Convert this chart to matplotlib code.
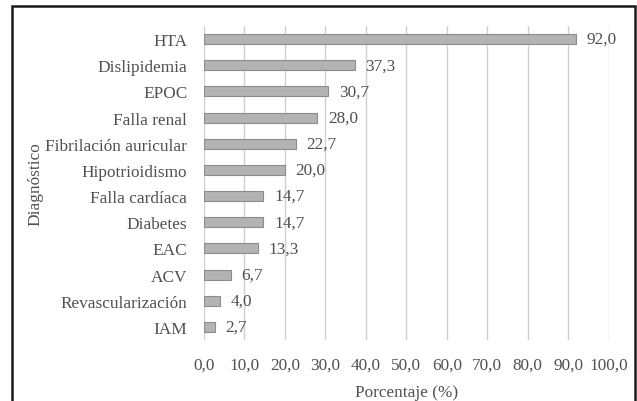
import matplotlib.pyplot as plt
from matplotlib.patches import Rectangle
from matplotlib.ticker import FuncFormatter

# =========================
# DATA
# =========================
diagnosticos = [
    "HTA", "Dislipidemia", "EPOC", "Falla renal", "Fibrilación auricular",
    "Hipotrioidismo", "Falla cardíaca", "Diabetes", "EAC", "ACV",
    "Revascularización", "IAM",
]
porcentajes = [92.0, 37.3, 30.7, 28.0, 22.7, 20.0, 14.7, 14.7, 13.3, 6.7, 4.0, 2.7]
x_ticks = list(range(0, 101, 10))

plt.rcParams["font.family"] = ["Liberation Serif", "DejaVu Serif"]
TEXT = "#505050"
FS = 12.4

fig = plt.figure(figsize=(6.37, 4.02), dpi=100)
ax = fig.add_axes([204 / 637, 1 - 341 / 402, (608.7 - 204) / 637, (341 - 27) / 402])

ypos = list(range(len(diagnosticos)))
ax.barh(ypos, porcentajes, height=0.38, color="#b3b3b3", edgecolor="#8c8c8c",
        linewidth=0.8, zorder=3)
for y, v in zip(ypos, porcentajes):
    ax.text(v + 2.6, y, f"{v:.1f}".replace(".", ","), va="center", ha="left",
            fontsize=FS, color=TEXT, zorder=4)

ax.set_xlim(0, 100)
ax.set_ylim(len(diagnosticos) - 0.5, -0.5)
ax.set_xticks(x_ticks)
ax.xaxis.set_major_formatter(FuncFormatter(lambda v, p: f"{v:.1f}".replace(".", ",")))
ax.set_yticks(ypos)
ax.set_yticklabels(diagnosticos)
ax.tick_params(axis="both", length=0, labelsize=FS, labelcolor=TEXT)
ax.tick_params(axis="x", pad=12)
ax.tick_params(axis="y", pad=12)
ax.grid(axis="x", color="#d0d0d0", linewidth=1, zorder=0)
for s in ax.spines.values():
    s.set_visible(False)

ax.set_xlabel("Porcentaje (%)", fontsize=FS, color=TEXT, labelpad=8)
ax.set_ylabel("Diagnóstico", fontsize=FS, color=TEXT)
ax.yaxis.set_label_coords((43 - 204) / 404.7, 0.5)

# outer frame
fig.patches.append(Rectangle((12 / 637, -0.05), (635 - 12) / 637, 1.05 - 7 / 402,
                             transform=fig.transFigure, fill=False,
                             edgecolor="#1a1a1a", linewidth=1.8))

fig.savefig("out.png", dpi=100)
